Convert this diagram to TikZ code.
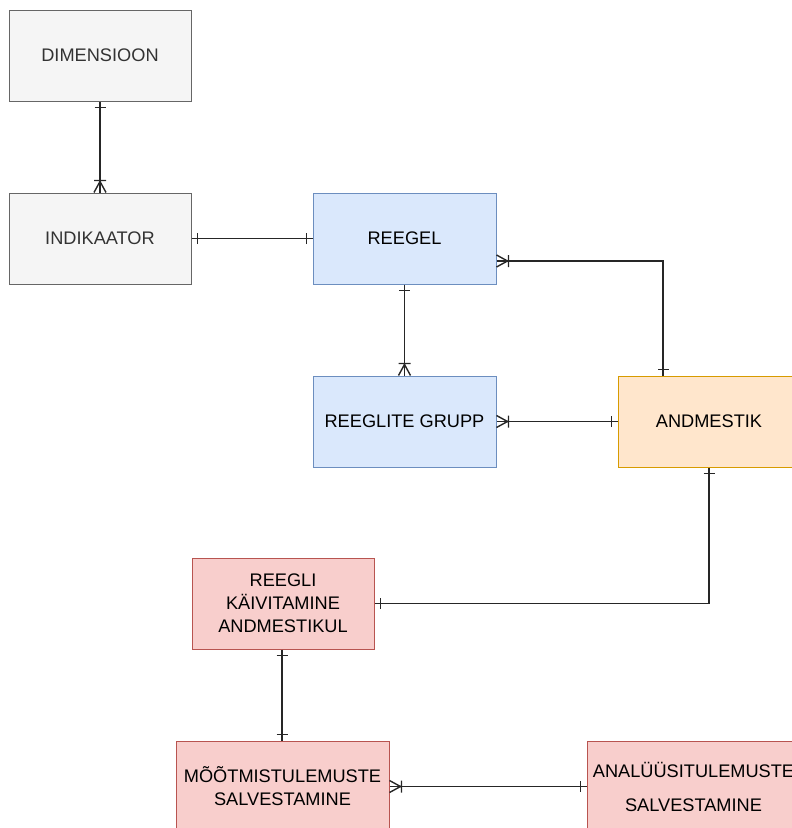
\documentclass[tikz,border=0pt]{standalone}
\usepackage{fontspec}
\setmainfont{Liberation Sans}
\usetikzlibrary{decorations.markings,calc}
\definecolor{gfill}{HTML}{F5F5F5}
\definecolor{gline}{HTML}{666666}
\definecolor{gtext}{HTML}{333333}
\definecolor{bfill}{HTML}{DAE8FC}
\definecolor{bline}{HTML}{6C8EBF}
\definecolor{ofill}{HTML}{FFE6CC}
\definecolor{oline}{HTML}{D79B00}
\definecolor{rfill}{HTML}{F8CECC}
\definecolor{rline}{HTML}{B85450}
\tikzset{
  box/.style={draw, line width=1pt, minimum width=182pt, minimum height=91pt, inner sep=0pt, align=center,
    font=\fontsize{18.2}{23}\selectfont},
  gbox/.style={box, fill=gfill, draw=gline, text=gtext},
  bbox/.style={box, fill=bfill, draw=bline},
  obox/.style={box, fill=ofill, draw=oline},
  rbox/.style={box, fill=rfill, draw=rline},
  conn/.style={line width=1.4pt, black!85},
  barS/.style={postaction={decorate,decoration={markings,
      mark=at position 6pt with {\draw[line width=1.4pt] (0,-5.5pt)--(0,5.5pt);}}}},
  barE/.style={postaction={decorate,decoration={markings,
      mark=at position -6pt with {\draw[line width=1.4pt] (0,-5.5pt)--(0,5.5pt);}}}},
  crowE/.style={postaction={decorate,decoration={markings,
      mark=at position -0.01pt with {\draw[line width=1.4pt] (-11pt,0)--(0,6pt) (-11pt,0)--(0,-6pt) (-12pt,-6pt)--(-12pt,6pt);}}}},
}
\begin{document}
\begin{tikzpicture}[x=1pt,y=-1pt]
\useasboundingbox (0,0) rectangle (792,828);
\clip (0,0) rectangle (792,828);
\node[gbox] (dim) at (100,55.5) {DIMENSIOON};
\node[gbox] (ind) at (100,238.5) {INDIKAATOR};
\node[bbox, minimum width=183pt] (reegel) at (404.5,238.5) {REEGEL};
\node[bbox, minimum width=183pt] (grupp) at (404.5,421.5) {REEGLITE GRUPP};
\node[obox] (andm) at (709,421.5) {ANDMESTIK};
\node[rbox] (kaiv) at (283,603.5) {REEGLI\\KÄIVITAMINE\\ANDMESTIKUL};
\node[rbox, minimum width=213pt] (moot) at (282.5,786.5) {MÕÕTMISTULEMUSTE\\SALVESTAMINE};
\node[rbox, minimum width=213pt] (anal) at (693.5,786.5) {ANALÜÜSITULEMUSTE\\[11pt]SALVESTAMINE};

\draw[conn, barS, crowE] (dim.south) -- (ind.north);
\draw[conn, barS, barE] (ind.east) -- (reegel.west);
\draw[conn, barS, crowE] ([xshift=-46pt]andm.north) |- ([yshift=-22.5pt]reegel.east);
\draw[conn, barS, crowE] (reegel.south) -- (grupp.north);
\draw[conn, barS, crowE] (andm.west) -- (grupp.east);
\draw[conn, barS, barE] (andm.south) |- (kaiv.east);
\draw[conn, barS, barE] ([xshift=-1pt]kaiv.south) -- ([xshift=-0.5pt]moot.north);
\draw[conn, barS, crowE] (anal.west) -- (moot.east);
\end{tikzpicture}
\end{document}
